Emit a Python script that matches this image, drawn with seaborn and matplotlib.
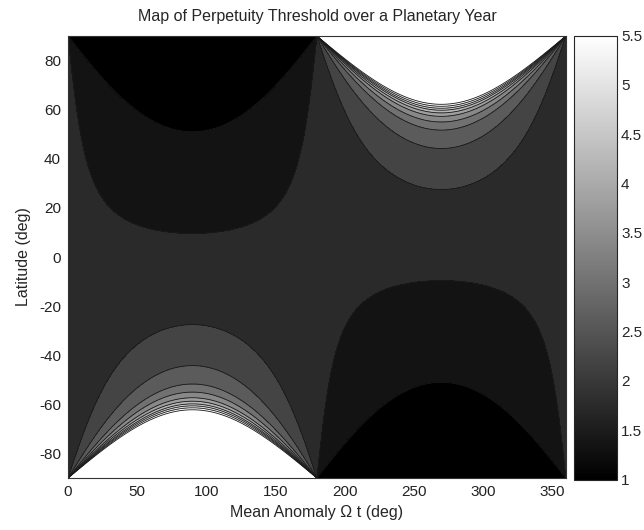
import numpy as np
import matplotlib
matplotlib.use("Agg")
import matplotlib.pyplot as plt
import seaborn as sns

# values
anomaly_ticks = [0, 50, 100, 150, 200, 250, 300, 350]
latitude_ticks = [-80, -60, -40, -20, 0, 20, 40, 60, 80]
cbar_ticks = [1, 1.5, 2, 2.5, 3, 3.5, 4, 4.5, 5, 5.5]

obliquity = 27.8  # deg, the white zone starts at 90 - 27.8 at the solstice

# latitude where each contour line crosses the solstice
# (negative = winter hemisphere, positive = summer hemisphere)
solstice_lat = [-62.2, -61.4, -60.6, -59.8, -58.7, -57.3, -55.0, -51.7, -44.2, -27.5, 9.6, 51.0]
# threshold of each filled zone, from the polar night zone up to the polar day cap
zone_value = [5.8, 5.4, 5.0, 4.6, 4.2, 3.8, 3.4, 3.0, 2.6, 2.2, 1.75, 1.35, 1.0]

sns.set_theme(style="ticks")
plt.rcParams["font.family"] = ["Liberation Sans", "DejaVu Sans"]
plt.rcParams["axes.unicode_minus"] = False

# grid over the year, contour lines follow tan(lat) * tan(declination) = const
t = np.linspace(0, 360, 721)
lat = np.linspace(-90, 90, 721)
T, LAT = np.meshgrid(t, lat)
decl = np.arcsin(np.sin(np.radians(obliquity)) * np.sin(np.radians(T)))
with np.errstate(all="ignore"):
    X = np.tan(np.radians(LAT)) * np.tan(decl)
X = np.clip(np.nan_to_num(X), -50, 50)

bounds = np.tan(np.radians(solstice_lat)) * np.tan(np.radians(obliquity))
levels = np.concatenate([[-51], bounds, [51]])

cmap = plt.get_cmap("gray")
norm = plt.Normalize(1, 5.5, clip=True)
zone_colors = [cmap(norm(v)) for v in zone_value]

fig = plt.figure(figsize=(6.44, 5.30), dpi=100)
ax = fig.add_axes([0.1056, 0.098, 0.773, 0.834])
cax = fig.add_axes([0.891, 0.095, 0.067, 0.838])

ax.contourf(T, LAT, X, levels=levels, colors=zone_colors)
ax.contour(T, LAT, X, levels=bounds, colors="k", linewidths=0.6, linestyles="solid")

ax.set_xlim(0, 360)
ax.set_ylim(-90, 90)
ax.set_xticks(anomaly_ticks)
ax.set_yticks(latitude_ticks)
ax.tick_params(direction="in", top=True, right=True, length=4, width=0.6,
               labelsize=11, pad=5, colors="#222222")
for s in ax.spines.values():
    s.set_linewidth(0.8)
    s.set_color("#333333")

ax.set_title("Map of Perpetuity Threshold over a Planetary Year", fontsize=11.5, pad=11)
ax.set_xlabel("Mean Anomaly \u03a9 t (deg)", fontsize=11.5, labelpad=4)
ax.set_ylabel("Latitude (deg)", fontsize=11.5, labelpad=6)

sm = matplotlib.cm.ScalarMappable(norm=plt.Normalize(1, 5.5), cmap=cmap)
cb = fig.colorbar(sm, cax=cax, ticks=cbar_ticks)
cb.set_ticklabels([f"{v:g}" for v in cbar_ticks])
cb.ax.tick_params(direction="in", left=True, right=True, length=4, width=0.6,
                  labelsize=11, pad=3)
cb.outline.set_linewidth(0.8)

fig.savefig("out.png", dpi=100)
